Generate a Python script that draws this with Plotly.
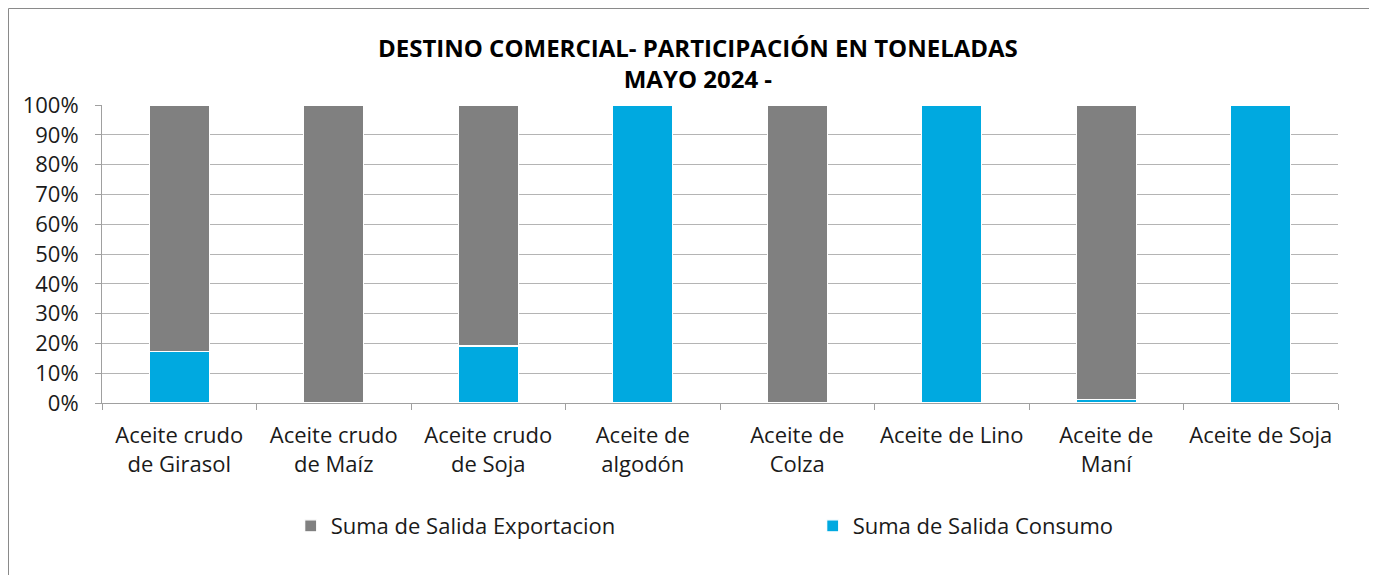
import plotly.graph_objects as go

categories = ["Aceite crudo<br>de Girasol", "Aceite crudo<br>de Maíz", "Aceite crudo<br>de Soja",
              "Aceite de<br>algodón", "Aceite de<br>Colza", "Aceite de Lino",
              "Aceite de<br>Maní", "Aceite de Soja"]
consumo = [17.4, 0.0, 19.1, 100.0, 0.0, 100.0, 1.3, 100.0]
exportacion = [82.6, 100.0, 80.9, 0.0, 100.0, 0.0, 98.7, 0.0]
tick_vals = [0, 10, 20, 30, 40, 50, 60, 70, 80, 90, 100]
tick_text = [f"{v}%" for v in tick_vals]

FONT = "Open Sans"
GRAY = "#808080"
BLUE = "#00A9E0"
TXT = "#1a1a1a"

fig = go.Figure()
fig.add_trace(go.Bar(x=categories, y=consumo, name="Suma de Salida Consumo",
                     marker=dict(color=BLUE, line=dict(color="white", width=1.2))))
fig.add_trace(go.Bar(x=categories, y=exportacion, name="Suma de Salida Exportacion",
                     marker=dict(color=GRAY, line=dict(color="white", width=1.2))))

# figure is placed with the page's 8px body margin
W, H = 1369, 567
L, R, T, B = 94, 39, 97, 172
pw = W - L - R
ph = H - T - B

fig.update_layout(
    width=W, height=H,
    barmode="stack", bargap=0.61,
    plot_bgcolor="white", paper_bgcolor="white",
    margin=dict(l=L, r=R, t=T, b=B, autoexpand=False),
    font=dict(family=FONT, size=22, color=TXT),
    showlegend=True,
    legend=dict(orientation="h", x=0.575, xanchor="center", y=-123 / ph, yanchor="middle",
                traceorder="reversed",
                entrywidth=477, entrywidthmode="pixels",
                font=dict(family=FONT, size=22, color=TXT),
                itemwidth=30),
    xaxis=dict(showline=True, linecolor="#a0a0a0", linewidth=1,
               ticks="outside", ticklen=6, tickcolor="#a0a0a0",
               tickson="boundaries", showgrid=False, ticklabelstandoff=13,
               tickangle=0,
               tickfont=dict(family=FONT, size=22, color=TXT)),
    yaxis=dict(range=[0, 100], tickvals=tick_vals, ticktext=tick_text,
               showline=True, linecolor="#a0a0a0", linewidth=1,
               ticks="outside", ticklen=6, tickcolor="#a0a0a0",
               showgrid=True, gridcolor="#b4b4b4", gridwidth=1,
               zeroline=False, ticklabelstandoff=12,
               tickfont=dict(family=FONT, size=22, color=TXT)),
)

fig.add_annotation(text="<b>DESTINO COMERCIAL- PARTICIPACIÓN EN TONELADAS</b><br><b>MAYO 2024 -</b>",
                   xref="paper", yref="paper",
                   x=(690 - L) / pw, y=(H - B - 55) / ph,
                   xanchor="center", yanchor="middle", showarrow=False,
                   font=dict(family=FONT, size=24, color="#000000"))

fig.add_shape(type="rect", xref="paper", yref="paper",
              x0=(0.5 - L) / pw, x1=(W + 20 - L) / pw,
              y0=(H - B - 590) / ph, y1=(H - B - 0.5) / ph,
              line=dict(color="#8a8a8a", width=1), fillcolor="rgba(0,0,0,0)", layer="below")

fig.write_html("out.html")
